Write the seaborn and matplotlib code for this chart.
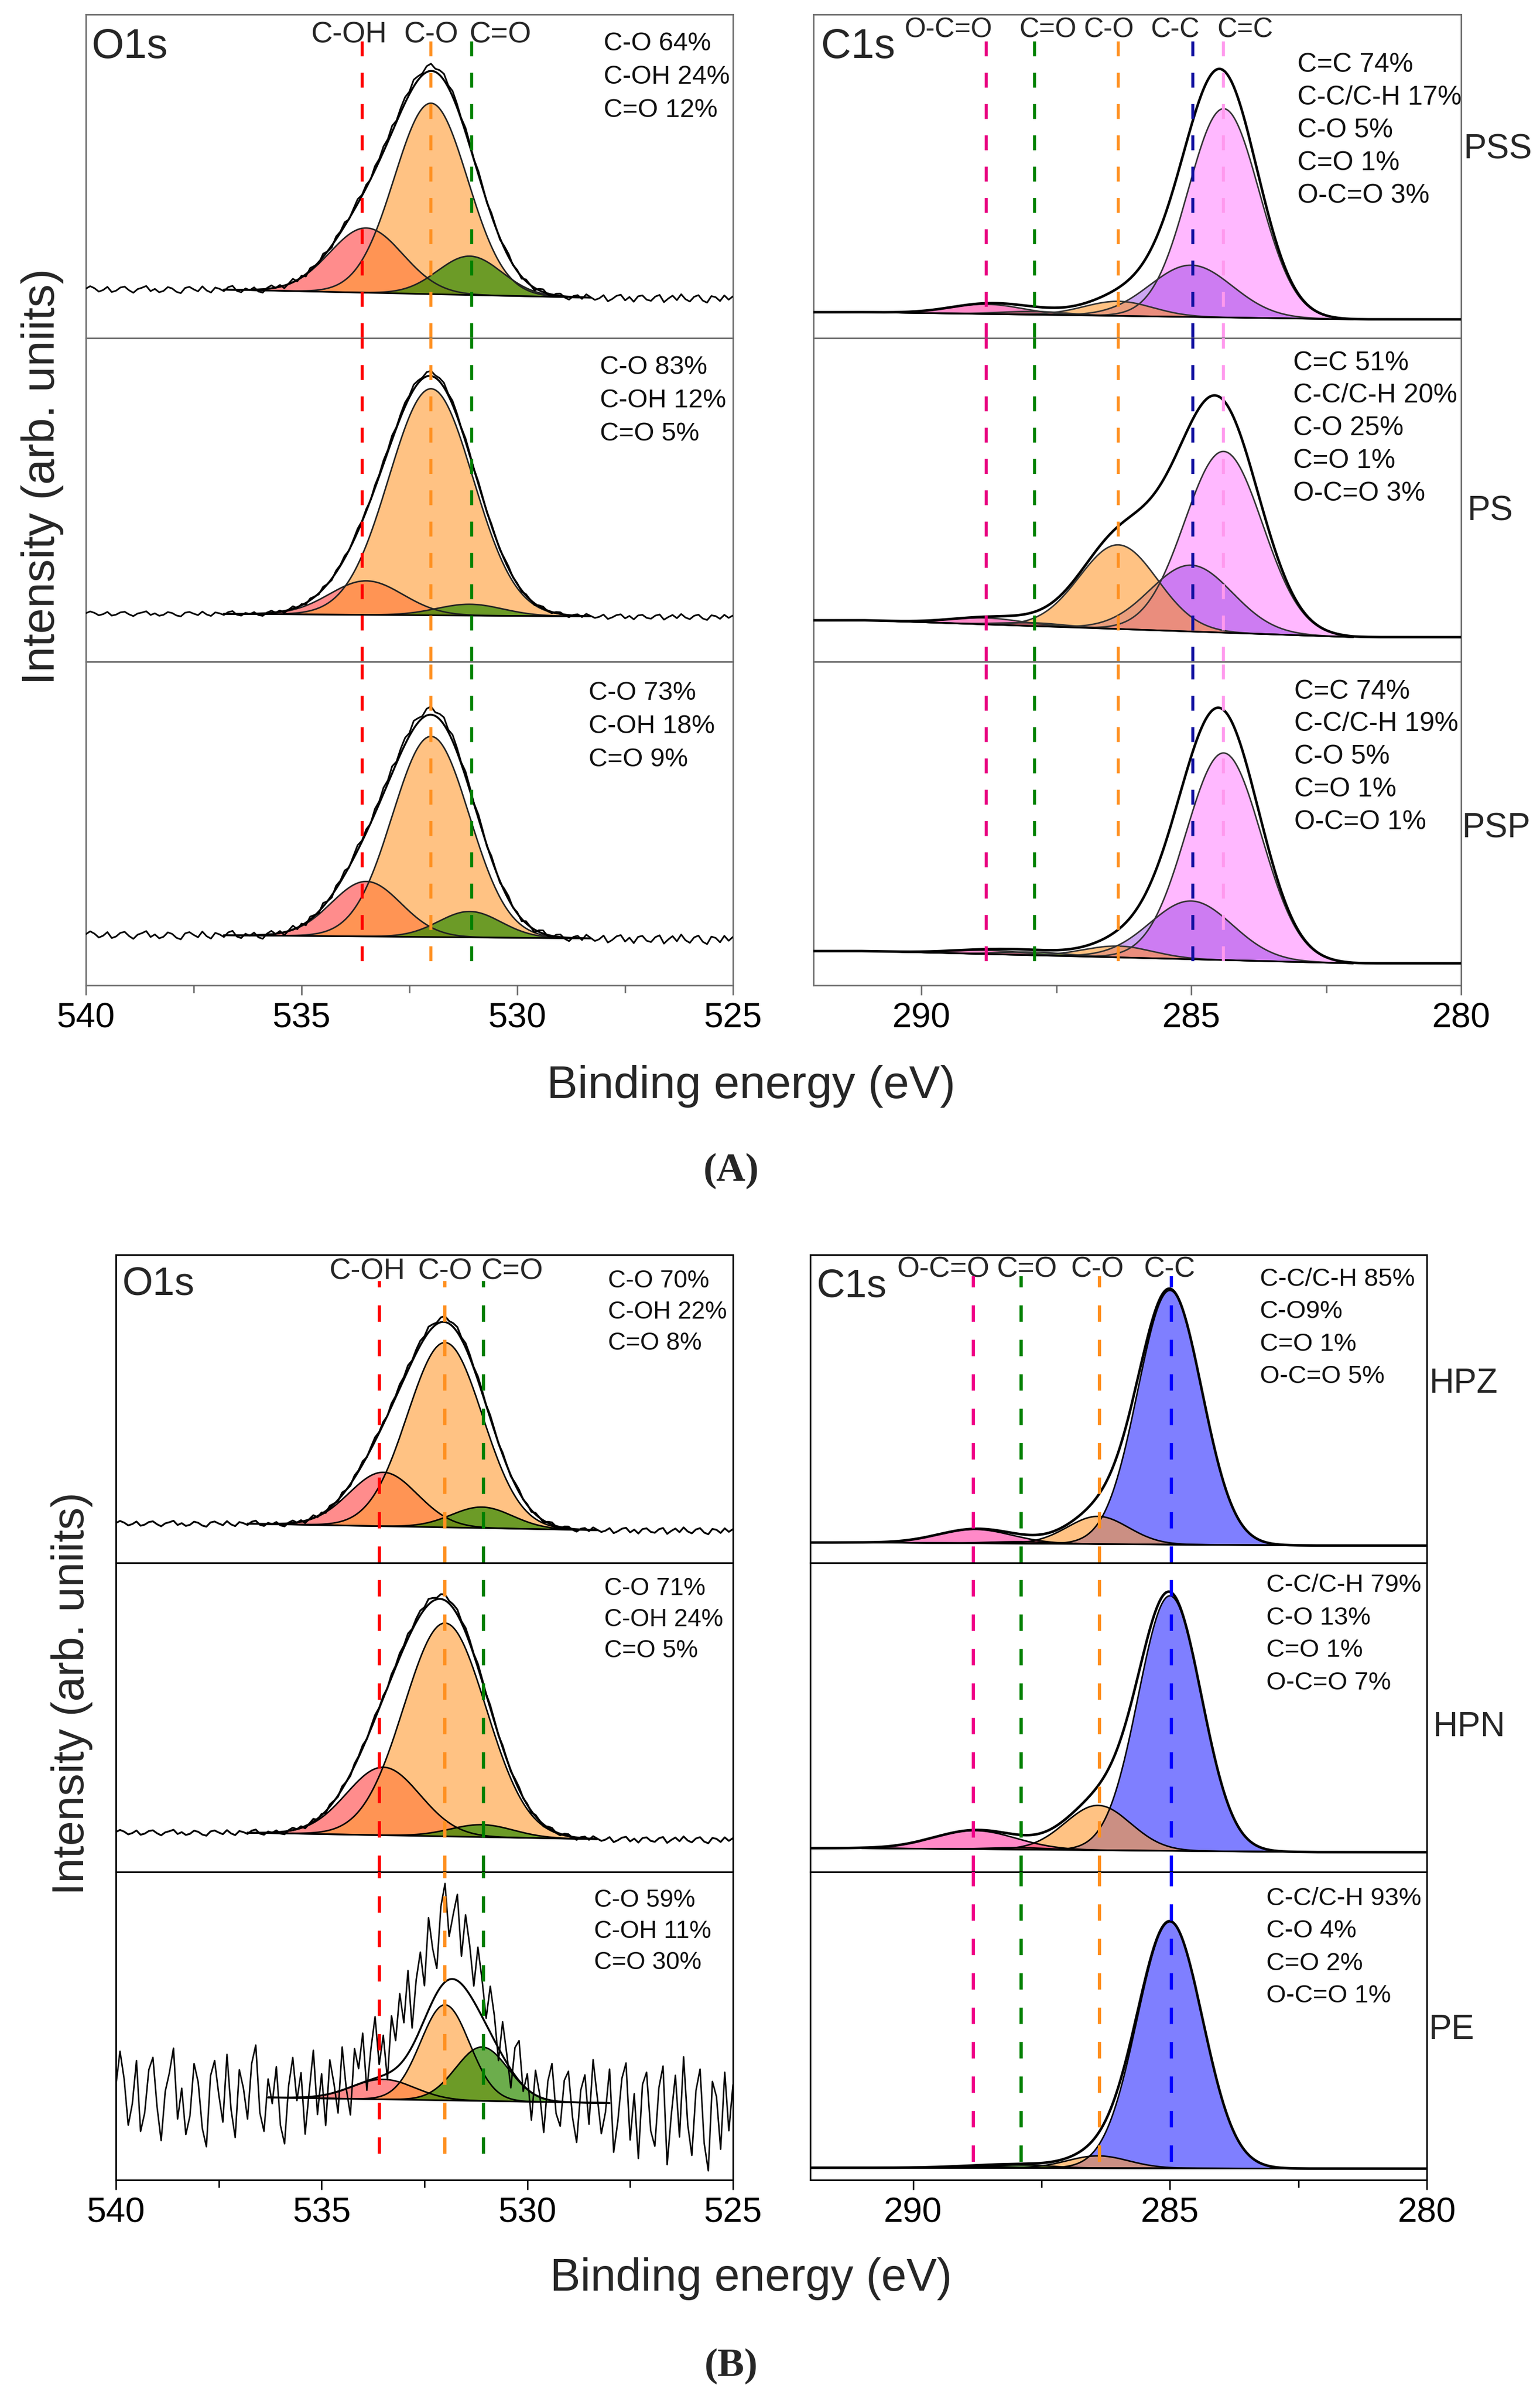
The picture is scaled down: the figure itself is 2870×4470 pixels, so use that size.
import numpy as np
import pandas as pd
import matplotlib
matplotlib.use("Agg")
import matplotlib.pyplot as plt
import seaborn as sns

# ------------------------------------------------------------------ data
O1S_NAMES = ["C-OH", "C-O", "C=O"]
O1S_CENTERS = [533.5, 532.0, 531.1]
O1S_DASH_X = [533.6, 532.0, 531.06]
O1S_TICKS = [540, 535, 530, 525]
O1S_MINOR = [537.5, 532.5, 527.5]
C1S_TICKS = [290, 285, 280]
C1S_MINOR = [287.5, 282.5]

A_SAMPLES = ["PSS", "PS", "PSP"]
A_O1S_HEIGHT = [[0.20, 0.59, 0.12], [0.105, 0.70, 0.035], [0.17, 0.62, 0.08]]
A_O1S_FWHM = [[2.0, 2.0, 1.75], [2.0, 2.3, 1.8], [1.9, 2.1, 1.7]]
A_O1S_BG = [[0.150, 0.125], [0.148, 0.140], [0.155, 0.145]]
A_O1S_NOISE = [0.07, 0.05, 0.08]
A_O1S_TEXT = ["C-O 64%\nC-OH 24%\nC=O 12%",
              "C-O 83%\nC-OH 12%\nC=O 5%",
              "C-O 73%\nC-OH 18%\nC=O 9%"]

A_C1S_NAMES = ["C=C", "C-C", "C-O", "C=O", "O-C=O"]
A_C1S_CENTERS = [284.4, 285.0, 286.35, 287.9, 288.8]
A_C1S_DASH_X = [284.4, 284.97, 286.35, 287.9, 288.8]
A_C1S_HEIGHT = [[0.645, 0.16, 0.045, 0.01, 0.03],
                [0.56, 0.205, 0.26, 0.01, 0.02],
                [0.64, 0.18, 0.035, 0.01, 0.012]]
A_C1S_FWHM = [[1.55, 1.8, 1.5, 1.4, 1.6],
              [1.7, 1.8, 1.7, 1.4, 1.6],
              [1.65, 1.8, 1.5, 1.4, 1.6]]
A_C1S_BG = [[0.080, 0.058], [0.128, 0.076], [0.106, 0.068]]
A_C1S_TEXT = ["C=C 74%\nC-C/C-H 17%\nC-O 5%\nC=O 1%\nO-C=O 3%",
              "C=C 51%\nC-C/C-H 20%\nC-O 25%\nC=O 1%\nO-C=O 3%",
              "C=C 74%\nC-C/C-H 19%\nC-O 5%\nC=O 1%\nO-C=O 1%"]

B_SAMPLES = ["HPZ", "HPN", "PE"]
B_O1S_HEIGHT = [[0.175, 0.60, 0.068], [0.22, 0.69, 0.04], [0.065, 0.31, 0.175]]
B_O1S_FWHM = [[1.95, 2.15, 1.75], [2.1, 2.35, 1.8], [1.8, 1.4, 1.5]]
B_O1S_BG = [[0.127, 0.106], [0.127, 0.106], [0.268, 0.250]]
B_O1S_NOISE = [0.06, 0.06, 1.0]
B_O1S_FIT = [[528.3, 536.8], [528.3, 536.8], [528.0, 536.3]]
B_O1S_TEXT = ["C-O 70%\nC-OH 22%\nC=O 8%",
              "C-O 71%\nC-OH 24%\nC=O 5%",
              "C-O 59%\nC-OH 11%\nC=O 30%"]

B_C1S_NAMES = ["C-C", "C-O", "C=O", "O-C=O"]
B_C1S_CENTERS = [285.0, 286.4, 287.9, 288.8]
B_C1S_DASH_X = [284.97, 286.37, 287.9, 288.82]
B_C1S_HEIGHT = [[0.825, 0.09, 0.006, 0.045],
                [0.825, 0.145, 0.006, 0.06],
                [0.80, 0.04, 0.01, 0.005]]
B_C1S_FWHM = [[1.47, 1.4, 1.4, 1.7], [1.45, 1.5, 1.4, 1.9], [1.5, 1.4, 1.4, 1.6]]
B_C1S_BG = [[0.066, 0.056], [0.077, 0.064], [0.040, 0.037]]
B_C1S_TEXT = ["C-C/C-H 85%\nC-O9%\nC=O 1%\nO-C=O 5%",
              "C-C/C-H 79%\nC-O 13%\nC=O 1%\nO-C=O 7%",
              "C-C/C-H 93%\nC-O 4%\nC=O 2%\nO-C=O 1%"]

O1S_NOISE_X = np.linspace(540.0, 525.0, 151)
O1S_NOISE = [
    0.04, 0.15, 0.06, -0.09, -0.02, 0.12, -0.11, -0.05, 0.09, 0.13,
    -0.03, -0.14, 0.02, 0.08, 0.16, -0.07, 0.03, -0.12, -0.06, 0.11,
    0.05, -0.10, -0.16, 0.07, 0.12, 0.01, -0.08, 0.14, -0.04, -0.13,
    0.09, 0.03, -0.07, 0.11, 0.17, -0.05, -0.11, 0.06, -0.02, 0.10,
    -0.09, -0.15, 0.04, 0.13, -0.01, 0.08, -0.12, 0.02, 0.15, -0.06,
    0.07, -0.10, 0.11, 0.03, -0.07, 0.14, 0.00, -0.09, 0.12, 0.05,
    0.16, -0.03, 0.10, 0.20, 0.04, 0.13, -0.02, 0.18, 0.09, 0.23,
    0.12, 0.27, 0.06, 0.19, 0.25, 0.11, 0.30, 0.17, 0.08, 0.26,
    0.32, 0.14, 0.21, 0.28, 0.09, 0.24, 0.16, 0.05, 0.20, 0.12,
    0.02, 0.15, 0.08, -0.04, 0.11, 0.03, -0.06, 0.09, 0.13, -0.02,
    0.05, -0.09, 0.08, 0.01, -0.11, 0.06, 0.12, -0.04, -0.08, 0.07,
    0.10, -0.05, -0.13, 0.04, 0.09, -0.07, 0.14, 0.02, -0.10, -0.03,
    0.11, -0.16, -0.06, 0.08, 0.13, -0.12, 0.03, -0.18, 0.06, 0.10,
    -0.09, -0.14, 0.05, 0.12, -0.20, -0.04, 0.09, -0.11, 0.15, -0.07,
    -0.17, 0.04, 0.11, -0.13, -0.22, 0.07, 0.02, -0.15, 0.10, -0.09, 0.06,
]

# ------------------------------------------------------------------ style
O1S_FILL = ["#FF0000", "#FF9A30", "#2E8B00"]
O1S_ALPHA = [0.45, 0.60, 0.70]
O1S_DASHC = ["#FF0000", "#FF9020", "#008000"]
A_C1S_FILL = ["#FF00FF", "#8A2BE2", "#FF9A30", "#2E8B00", "#FF1493"]
A_C1S_ALPHA = [0.28, 0.42, 0.60, 0.60, 0.50]
A_C1S_DASHC = ["#FF99EE", "#1010A0", "#FF9020", "#008000", "#E8007F"]
B_C1S_FILL = ["#0000FF", "#FF9A30", "#2E8B00", "#FF1493"]
B_C1S_ALPHA = [0.50, 0.60, 0.60, 0.50]
B_C1S_DASHC = ["#0000FF", "#FF9020", "#008000", "#F0008A"]

sns.set_theme(style="white")
plt.rcParams["font.family"] = ["Liberation Sans", "DejaVu Sans"]

W, H = 2870, 4470
fig = plt.figure(figsize=(W / 100, H / 100), dpi=100)


def add_axes(x0, x1, y0, y1):
    return fig.add_axes([x0 / W, 1 - y1 / H, (x1 - x0) / W, (y1 - y0) / H])


def gauss(x, c, h, fwhm):
    return h * np.exp(-4.0 * np.log(2.0) * (x - c) ** 2 / fwhm ** 2)


def draw_spectrum(ax, xlim, fit, centers, heights, fwhms, bg, fills, alphas,
                  edge, noise_scale=None, data_lw=2.2):
    x = np.linspace(min(xlim), max(xlim), 2400)
    bgx = np.interp(x, fit, [bg[1], bg[0]])
    comps = [gauss(x, c, h, f) for c, h, f in zip(centers, heights, fwhms)]
    total = bgx + np.sum(comps, axis=0)
    m = (x >= fit[0]) & (x <= fit[1])
    for comp, col, a in zip(comps, fills, alphas):
        ax.fill_between(x[m], bgx[m], bgx[m] + comp[m], color=col, alpha=a,
                        lw=0, zorder=2)
        ax.plot(x[m], bgx[m] + comp[m], color=edge, lw=2.0, zorder=3)
    ax.plot(x[m], bgx[m], color="black", lw=2.2, zorder=3)
    if noise_scale is None:
        sns.lineplot(x=x, y=total, ax=ax, color="black", lw=3.4, zorder=4,
                     estimator=None, sort=False)
    else:
        sns.lineplot(x=x[m], y=total[m], ax=ax, color="black", lw=2.6,
                     zorder=4, estimator=None, sort=False)
        xn = O1S_NOISE_X
        bgn = np.interp(xn, fit, [bg[1], bg[0]])
        comp_n = np.sum([gauss(xn, c, h, f) for c, h, f in
                         zip(centers, heights, fwhms)], axis=0)
        data = bgn + comp_n + noise_scale * np.array(O1S_NOISE)
        sns.lineplot(x=xn, y=data, ax=ax, color="black", lw=data_lw, zorder=4,
                     estimator=None, sort=False)
    ax.set_xlim(*xlim)
    ax.set_ylim(0, 1)
    ax.set_xlabel("")
    ax.set_ylabel("")


def frame(ax, color, lw):
    for s in ax.spines.values():
        s.set_color(color)
        s.set_linewidth(lw)
        s.set_visible(True)


def dashes(ax, xs, colors, ymin, ymax, lw):
    for xv, c in zip(xs, colors):
        ax.axvline(xv, ymin=ymin, ymax=ymax, color=c, lw=lw,
                   ls=(0, (5, 5.5)), zorder=6)


def comp_text(ax, text, fx, fy, dy, size):
    for j, line in enumerate(text.split("\n")):
        ax.text(fx, fy - j * dy, line, transform=ax.transAxes, ha="left",
                va="top", fontsize=size, color="#111111", zorder=7)


def bottom_ticks(ax, major, minor, color):
    ax.set_xticks(major)
    ax.set_xticks(minor, minor=True)
    ax.set_xticklabels([str(t) for t in major])
    ax.tick_params(axis="x", which="major", direction="out", length=13,
                   width=2, color=color, labelsize=47, pad=10,
                   labelcolor="black", bottom=True)
    ax.tick_params(axis="x", which="minor", direction="out", length=10,
                   width=2, color=color, bottom=True)
    ax.set_yticks([])


def no_ticks(ax):
    ax.set_xticks([])
    ax.set_yticks([])


# ------------------------------------------------------------ panel (A)
A_ROWS = [(27, 630), (630, 1233), (1233, 1836)]
A_O1S_TFX = [0.800, 0.794, 0.777]
A_O1S_TFY = [0.947, 0.947, 0.941]
A_C1S_TFX = [0.747, 0.741, 0.742]
A_C1S_TFY = [0.882, 0.961, 0.946]
A_LABEL_POS = [(2728, 278), (2735, 953), (2725, 1544)]
A_GRAY = "#6e6e6e"

for i, (y0, y1) in enumerate(A_ROWS):
    ax = add_axes(160, 1366, y0, y1)
    draw_spectrum(ax, (540, 525), [528.3, 536.8], O1S_CENTERS, A_O1S_HEIGHT[i],
                  A_O1S_FWHM[i], A_O1S_BG[i], O1S_FILL, O1S_ALPHA, "#222222",
                  noise_scale=A_O1S_NOISE[i])
    frame(ax, A_GRAY, 2.0)
    ymin = 0.075 if i == 2 else 0.0
    ymax = 0.92 if i == 0 else 1.0
    dashes(ax, O1S_DASH_X, O1S_DASHC, ymin, ymax, 4.0)
    comp_text(ax, A_O1S_TEXT[i], A_O1S_TFX[i], A_O1S_TFY[i], 0.103, 35)
    if i == 0:
        ax.text(0.009, 0.866, "O1s", transform=ax.transAxes, fontsize=56,
                va="baseline", ha="left")
        for name, xv in zip(O1S_NAMES, [533.9, 532.0, 530.4]):
            ax.text(xv, 0.913, name, transform=ax.get_xaxis_transform(),
                    fontsize=40, ha="center", va="baseline")
    if i == 2:
        bottom_ticks(ax, O1S_TICKS, O1S_MINOR, A_GRAY)
    else:
        no_ticks(ax)

    ax = add_axes(1516, 2723, y0, y1)
    draw_spectrum(ax, (292, 280), [282.0, 291.0], A_C1S_CENTERS, A_C1S_HEIGHT[i],
                  A_C1S_FWHM[i], A_C1S_BG[i], A_C1S_FILL, A_C1S_ALPHA, "#333333")
    frame(ax, A_GRAY, 2.0)
    dashes(ax, A_C1S_DASH_X, A_C1S_DASHC, ymin, ymax, 4.0)
    comp_text(ax, A_C1S_TEXT[i], A_C1S_TFX[i], A_C1S_TFY[i], 0.101, 36)
    if i == 0:
        ax.text(0.012, 0.866, "C1s", transform=ax.transAxes, fontsize=56,
                va="baseline", ha="left")
        for name, xv in zip(["O-C=O", "C=O", "C-O", "C-C", "C=C"],
                            [289.5, 287.66, 286.53, 285.3, 284.0]):
            ax.text(xv, 0.929, name, transform=ax.get_xaxis_transform(),
                    fontsize=37, ha="center", va="baseline")
    if i == 2:
        bottom_ticks(ax, C1S_TICKS, C1S_MINOR, A_GRAY)
    else:
        no_ticks(ax)
    px, py = A_LABEL_POS[i]
    fig.text(px / W, 1 - py / H, A_SAMPLES[i], fontsize=46, ha="left",
             va="center")

fig.text(79 / W, 1 - 888 / H, "Intensity (arb. uniits)", rotation=90,
         fontsize=62, ha="center", va="center")
fig.text(1400 / W, 1 - 2024 / H, "Binding energy (eV)", fontsize=62,
         ha="center", va="center")
fig.text(1363 / W, 1 - 2182 / H, "(A)", fontsize=54, ha="center", va="center",
         family=["Liberation Serif", "DejaVu Serif"], weight="bold")

# ------------------------------------------------------------ panel (B)
B_ROWS = [(2338, 2912), (2912, 3488), (3488, 4062)]
B_O1S_TFX = [0.797, 0.791, 0.775]
B_O1S_TFY = [0.953, 0.955, 0.946]
B_C1S_TFX = [0.729, 0.740, 0.740]
B_C1S_TFY = [0.958, 0.965, 0.951]
B_LABEL_POS = [(2664, 2578), (2671, 3218), (2663, 3782)]

for i, (y0, y1) in enumerate(B_ROWS):
    ax = add_axes(216, 1366, y0, y1)
    draw_spectrum(ax, (540, 525), B_O1S_FIT[i], O1S_CENTERS, B_O1S_HEIGHT[i],
                  B_O1S_FWHM[i], B_O1S_BG[i], O1S_FILL, O1S_ALPHA, "black",
                  noise_scale=B_O1S_NOISE[i], data_lw=2.0 if i == 2 else 2.4)
    frame(ax, "black", 2.2)
    ymin = 0.085 if i == 2 else 0.0
    ymax = 0.915 if i == 0 else 1.0
    dashes(ax, O1S_DASH_X, O1S_DASHC, ymin, ymax, 4.4)
    comp_text(ax, B_O1S_TEXT[i], B_O1S_TFX[i], B_O1S_TFY[i], 0.101, 33)
    if i == 0:
        ax.text(0.01, 0.871, "O1s", transform=ax.transAxes, fontsize=53,
                va="baseline", ha="left")
        for name, xv in zip(O1S_NAMES, [533.89, 532.0, 530.37]):
            ax.text(xv, 0.921, name, transform=ax.get_xaxis_transform(),
                    fontsize=40, ha="center", va="baseline")
    if i == 2:
        bottom_ticks(ax, O1S_TICKS, O1S_MINOR, "black")
    else:
        no_ticks(ax)

    ax = add_axes(1510, 2659, y0, y1)
    draw_spectrum(ax, (292, 280), [282.0, 291.0], B_C1S_CENTERS, B_C1S_HEIGHT[i],
                  B_C1S_FWHM[i], B_C1S_BG[i], B_C1S_FILL, B_C1S_ALPHA, "black")
    frame(ax, "black", 2.2)
    ymin_c = 0.06 if i == 2 else 0.0
    ymax_c = 0.93 if i == 0 else 1.0
    dashes(ax, B_C1S_DASH_X, B_C1S_DASHC, ymin_c, ymax_c, 4.4)
    comp_text(ax, B_C1S_TEXT[i], B_C1S_TFX[i], B_C1S_TFY[i], 0.105, 34)
    if i == 0:
        ax.text(0.01, 0.864, "C1s", transform=ax.transAxes, fontsize=53,
                va="baseline", ha="left")
        for name, xv in zip(["O-C=O", "C=O", "C-O", "C-C"],
                            [289.41, 287.78, 286.41, 285.01]):
            ax.text(xv, 0.927, name, transform=ax.get_xaxis_transform(),
                    fontsize=39, ha="center", va="baseline")
    if i == 2:
        bottom_ticks(ax, C1S_TICKS, C1S_MINOR, "black")
    else:
        no_ticks(ax)
    px, py = B_LABEL_POS[i]
    fig.text(px / W, 1 - py / H, B_SAMPLES[i], fontsize=46, ha="left",
             va="center")

fig.text(134 / W, 1 - 3156 / H, "Intensity (arb. uniits)", rotation=90,
         fontsize=60, ha="center", va="center")
fig.text(1400 / W, 1 - 4246 / H, "Binding energy (eV)", fontsize=61,
         ha="center", va="center")
fig.text(1363 / W, 1 - 4409 / H, "(B)", fontsize=54, ha="center", va="center",
         family=["Liberation Serif", "DejaVu Serif"], weight="bold")

fig.savefig("out.png", dpi=100, facecolor="white")
